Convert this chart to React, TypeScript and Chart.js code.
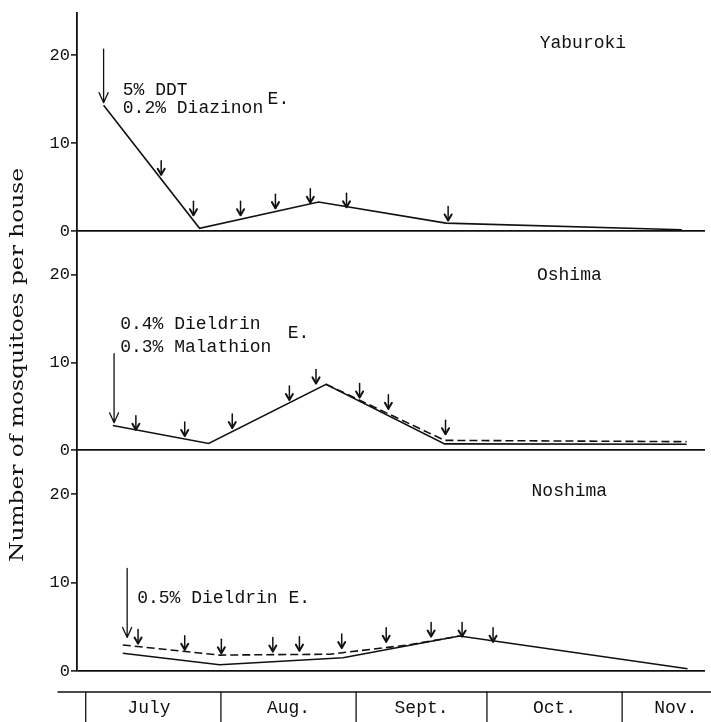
import React, { useEffect, useRef } from "react";
import { Chart, registerables } from "chart.js";

Chart.register(...registerables);

// x values are days counted from 1 July
const monthNames = ["July", "Aug.", "Sept.", "Oct.", "Nov."];
const monthStartDays = [0, 31, 62, 92, 123];
const monthLabelDays = [14.5, 46.5, 77, 107.5, 135.3];

const yTickValues = [0, 10, 20];

// Yaburoki
const yabDays = [4.1, 26.1, 53.4, 82.6, 136.7];
const yabCounts = [14.3, 0.3, 3.3, 0.9, 0.15];
const yabArrowDays = [17.3, 24.7, 35.5, 43.5, 51.5, 59.8, 83.1];
const yabArrowTips = [6.4, 1.8, 1.8, 2.6, 3.2, 2.7, 1.2];
const yabBigArrow = [4.1, 20.7, 14.6]; // day, from, to

// Oshima
const oshSolidDays = [6.2, 28.2, 55.1, 82.3, 137.8];
const oshSolidCounts = [2.8, 0.75, 7.5, 0.7, 0.65];
const oshDashDays = [55.1, 82.3, 137.8];
const oshDashCounts = [7.5, 1.1, 0.95];
const oshArrowDays = [11.5, 22.7, 33.6, 46.7, 52.8, 62.8, 69.4, 82.5];
const oshArrowTips = [2.3, 1.6, 2.5, 5.7, 7.6, 6.0, 4.7, 1.8];
const oshBigArrow = [6.5, 11.0, 3.1];

// Noshima
const noshSolidDays = [8.5, 30.7, 59, 85.7, 138];
const noshSolidCounts = [2.0, 0.7, 1.5, 3.95, 0.25];
const noshDashDays = [8.5, 30.7, 56, 74, 85.7];
const noshDashCounts = [2.95, 1.8, 1.9, 2.95, 3.95];
const noshArrowDays = [12, 22.7, 31.1, 42.9, 49, 58.7, 68.9, 79.2, 86.3, 93.4];
const noshArrowTips = [3.1, 2.4, 2.0, 2.2, 2.3, 2.6, 3.3, 3.9, 3.9, 3.3];
const noshBigArrow = [9.5, 11.6, 3.8];

const INK = "#111";
const MONO = "'Liberation Mono', 'DejaVu Sans Mono', monospace";
const TITLE = "Number of mosquitoes per house";

const toPts = (xs: number[], ys: number[]) => xs.map((x, i) => ({ x, y: ys[i] }));

const panels = [
  {
    axis: "y1",
    name: "Yaburoki",
    nameAt: [114, 21.4],
    arrowDays: yabArrowDays,
    arrowTips: yabArrowTips,
    big: yabBigArrow,
    notes: [
      { text: "5% DDT", at: [8.5, 15.5] },
      { text: "0.2% Diazinon", at: [8.5, 13.4] },
      { text: "E.", at: [41.7, 14.5] },
    ],
  },
  {
    axis: "y2",
    name: "Oshima",
    nameAt: [110.9, 20.0],
    arrowDays: oshArrowDays,
    arrowTips: oshArrowTips,
    big: oshBigArrow,
    notes: [
      { text: "0.4% Dieldrin", at: [7.9, 13.8] },
      { text: "0.3% Malathion", at: [7.9, 11.2] },
      { text: "E.", at: [46.3, 12.8] },
    ],
  },
  {
    axis: "y3",
    name: "Noshima",
    nameAt: [110.9, 20.3],
    arrowDays: noshArrowDays,
    arrowTips: noshArrowTips,
    big: noshBigArrow,
    notes: [{ text: "0.5% Dieldrin E.", at: [11.8, 7.7] }],
  },
];

const lineStyle = {
  borderColor: INK,
  borderWidth: 1.6,
  pointRadius: 0,
  fill: false,
  tension: 0,
};

function yAxis(max: number, weight: number, stackWeight: number) {
  return {
    type: "linear" as const,
    position: "left" as const,
    stack: "panels",
    stackWeight,
    weight,
    min: 0,
    max,
    afterFit: (s: any) => {
      s.width = 77;
    },
    afterBuildTicks: (s: any) => {
      s.ticks = yTickValues.map((v) => ({ value: v }));
    },
    ticks: {
      color: INK,
      padding: 1,
      font: { family: MONO, size: 17 },
    },
    grid: {
      drawOnChartArea: true,
      color: (c: any) => (c.tick && c.tick.value === 0 ? INK : "rgba(0,0,0,0)"),
      lineWidth: 1.8,
      tickColor: INK,
      tickLength: 6,
      tickWidth: 1.5,
    },
    border: { display: true, color: INK, width: 1.8 },
  };
}

const annotate = {
  id: "annotate",
  afterDatasetsDraw(chart: any) {
    const ctx = chart.ctx as CanvasRenderingContext2D;
    const xs = chart.scales.x;
    const area = chart.chartArea;
    ctx.save();
    ctx.strokeStyle = INK;
    ctx.fillStyle = INK;
    ctx.lineCap = "round";
    ctx.lineJoin = "round";

    panels.forEach((p) => {
      const ys = chart.scales[p.axis];
      // small arrows
      p.arrowDays.forEach((d, i) => {
        const x = xs.getPixelForValue(d);
        const tip = ys.getPixelForValue(p.arrowTips[i]);
        ctx.lineWidth = 1.5;
        ctx.beginPath();
        ctx.moveTo(x, tip - 14);
        ctx.lineTo(x, tip);
        ctx.stroke();
        ctx.lineWidth = 2;
        ctx.beginPath();
        ctx.moveTo(x - 3.5, tip - 6);
        ctx.lineTo(x, tip);
        ctx.lineTo(x + 3.5, tip - 6);
        ctx.stroke();
      });
      // big arrow
      const bx = xs.getPixelForValue(p.big[0]);
      const b0 = ys.getPixelForValue(p.big[1]);
      const b1 = ys.getPixelForValue(p.big[2]);
      ctx.lineWidth = 1.3;
      ctx.beginPath();
      ctx.moveTo(bx, b0);
      ctx.lineTo(bx, b1);
      ctx.moveTo(bx - 4.5, b1 - 10);
      ctx.lineTo(bx, b1);
      ctx.lineTo(bx + 4.5, b1 - 10);
      ctx.stroke();
      // notes
      ctx.font = `18px ${MONO}`;
      ctx.textAlign = "left";
      ctx.textBaseline = "alphabetic";
      p.notes.forEach((n) => {
        ctx.fillText(n.text, xs.getPixelForValue(n.at[0]), ys.getPixelForValue(n.at[1]));
      });
      ctx.textAlign = "center";
      ctx.textBaseline = "middle";
      ctx.fillText(p.name, xs.getPixelForValue(p.nameAt[0]), ys.getPixelForValue(p.nameAt[1]));
    });

    // y-axis title: wide serif, stretched along its length to span the figure's extent
    ctx.save();
    ctx.font = "19px 'DejaVu Serif', serif";
    const w = ctx.measureText(TITLE).width || 394;
    const stretch = Math.max(0.8, Math.min(1.4, 394 / w));
    ctx.translate(18, 365);
    ctx.rotate(-Math.PI / 2);
    ctx.scale(stretch, 1);
    ctx.textAlign = "center";
    ctx.textBaseline = "middle";
    ctx.fillText(TITLE, 0, 0);
    ctx.restore();

    // month table
    const lineY = area.bottom + 21;
    const bottom = chart.height;
    ctx.lineWidth = 1.6;
    ctx.beginPath();
    ctx.moveTo(58, lineY);
    ctx.lineTo(chart.width, lineY);
    ctx.stroke();
    ctx.lineWidth = 1.3;
    monthStartDays.forEach((d) => {
      const x = xs.getPixelForValue(d);
      ctx.beginPath();
      ctx.moveTo(x, lineY);
      ctx.lineTo(x, bottom);
      ctx.stroke();
    });
    ctx.font = `18px ${MONO}`;
    ctx.textAlign = "center";
    ctx.textBaseline = "alphabetic";
    monthNames.forEach((m, i) => {
      ctx.fillText(m, xs.getPixelForValue(monthLabelDays[i]), lineY + 21);
    });
    ctx.restore();
  },
};

export default function App() {
  const ref = useRef<HTMLCanvasElement | null>(null);
  useEffect(() => {
    document.body.style.margin = "0";
    if (!ref.current) return;
    const chart = new Chart(ref.current, {
      type: "line",
      data: {
        datasets: [
          { ...lineStyle, data: toPts(yabDays, yabCounts), yAxisID: "y1" },
          { ...lineStyle, data: toPts(oshSolidDays, oshSolidCounts), yAxisID: "y2" },
          { ...lineStyle, data: toPts(oshDashDays, oshDashCounts), yAxisID: "y2", borderDash: [8, 4] },
          { ...lineStyle, data: toPts(noshSolidDays, noshSolidCounts), yAxisID: "y3" },
          { ...lineStyle, data: toPts(noshDashDays, noshDashCounts), yAxisID: "y3", borderDash: [8, 4] },
        ],
      },
      options: {
        animation: false,
        responsive: false,
        devicePixelRatio: 1,
        layout: { padding: { left: 0, top: 13, right: 6, bottom: 51 } },
        plugins: { legend: { display: false }, tooltip: { enabled: false } },
        scales: {
          x: { type: "linear", min: -2, max: 142, display: false },
          y1: yAxis(24.8, 3, 218),
          y2: yAxis(25, 2, 219),
          y3: yAxis(25, 1, 221),
        } as any,
      },
      plugins: [annotate],
    });
    return () => chart.destroy();
  }, []);
  return (
    <div style={{ width: 711, height: 722, background: "#fff" }}>
      <canvas ref={ref} width={711} height={722} />
    </div>
  );
}
